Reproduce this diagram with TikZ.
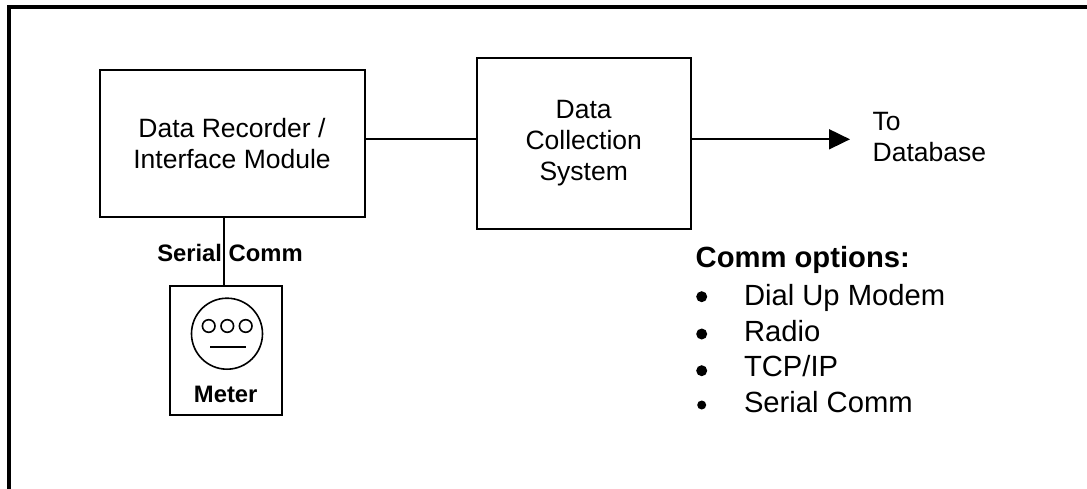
\documentclass[tikz,border=0pt]{standalone}
\usepackage{fontspec}
\setmainfont{Liberation Sans}
\usetikzlibrary{arrows.meta}
\tikzset{
  x=1pt,y=-1pt,
  frameline/.style={line width=4pt,line join=miter},
  boxnode/.style={draw,line width=2pt,inner sep=0pt,outer sep=0pt,align=center,font=\fontsize{26.5}{31}\selectfont},
  wire/.style={line width=1.8pt},
  lbl/.style={inner sep=0pt,outer sep=0pt,anchor=base west,font=\fontsize{26.5}{31}\selectfont},
  lblbold/.style={inner sep=0pt,outer sep=0pt,anchor=base,font=\fontsize{23.8}{28}\selectfont\bfseries},
  listhead/.style={inner sep=0pt,outer sep=0pt,anchor=base west,font=\fontsize{29.2}{35}\selectfont\bfseries},
  listitem/.style={inner sep=0pt,outer sep=0pt,anchor=base west,font=\fontsize{29.2}{35}\selectfont},
  dotnode/.style={circle,fill=black,inner sep=0pt,outer sep=0pt,minimum size=#1},
  ring/.style={circle,draw,line width=1.6pt,inner sep=0pt,outer sep=0pt,minimum size=#1},
}
\begin{document}
\begin{tikzpicture}
\useasboundingbox (0,0) rectangle (1087,489);
\fill[white] (0,0) rectangle (1087,489);
\draw[frameline] (9,489) -- (9,7) -- (1087,7);
% main boxes
\node[boxnode,minimum width=265pt,minimum height=147pt] (rec) at (232,143.5) {Data Recorder /\\Interface Module};
\node[boxnode,minimum width=214pt,minimum height=171pt] (dcs) at (583.7,143.5) {Data\\Collection\\System};
\node[boxnode,minimum width=111.4pt,minimum height=128.7pt] (mtr) at (226,350.6) {};
% connectors
\coordinate (tip) at (850,139.3);
\coordinate (vx) at (224.3,250);
\draw[wire] (rec.east |- tip) -- (dcs.west |- tip);
\draw[wire,-{Triangle[length=21pt,width=20pt]}] (dcs.east |- tip) -- (tip);
\draw[wire] (vx |- rec.south) -- (vx |- mtr.north);
% meter face
\node[ring=71pt] (face) at (227,333.7) {};
\node[ring=12.6pt] (d1) at (208.7,326) {};
\node[ring=12.6pt] (d2) at (227.3,326) {};
\node[ring=12.6pt] (d3) at (245.7,326) {};
\coordinate (bara) at (210,347);
\coordinate (barb) at (246,347);
\draw[line width=1.6pt] (bara) -- (barb);
% labels
\node[lblbold] (serial) at (230,261.7) {Serial Comm};
\node[lblbold] (meter) at (225.7,402) {Meter};
\node[lbl] (to) at (872.7,130.7) {To};
\node[lbl] (db) at (872.7,161.7) {Database};
% list
\node[listhead] (head) at (695.7,268) {Comm options:};
\node[dotnode=11pt] (b1) at (701.7,296.7) {};
\node[dotnode=11pt] (b2) at (701.7,334) {};
\node[dotnode=11pt] (b3) at (701.7,370.7) {};
\node[dotnode=9pt] (b4) at (701.7,405) {};
\node[listitem] (i1) at (744,305) {Dial Up Modem};
\node[listitem] (i2) at (744,341.7) {Radio};
\node[listitem] (i3) at (744,376.7) {TCP/IP};
\node[listitem] (i4) at (744,412) {Serial Comm};
\end{tikzpicture}
\end{document}
